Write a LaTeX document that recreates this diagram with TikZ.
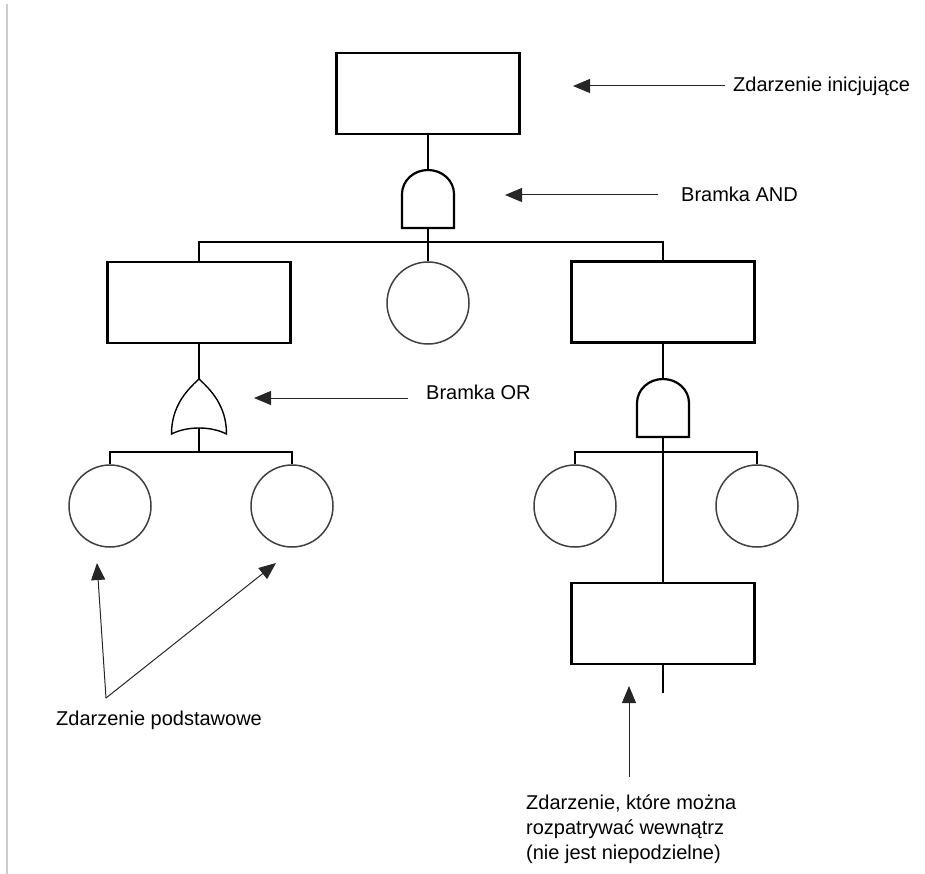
\documentclass[tikz,border=0pt]{standalone}
\usepackage{fontspec}
\setmainfont{Liberation Sans}
\usetikzlibrary{arrows.meta}

\begin{document}
\begin{tikzpicture}[
    x=1pt, y=1pt,
    event/.style={rectangle, draw, line width=2.4pt, minimum width=183pt, minimum height=81pt, inner sep=0pt},
    basic/.style={circle, draw=black!75, line width=1.5pt, minimum size=82pt, inner sep=0pt},
    link/.style={line width=2.2pt},
    pointer/.style={-{Triangle[length=17pt,width=14pt]}, line width=1pt, draw=black!85},
    lbl/.style={anchor=base west, inner sep=0pt, font=\fontsize{20pt}{25pt}\selectfont, align=left},
    andgate/.pic={
        \draw[line width=2.2pt, fill=white] (-26,0) -- (-26,34)
            arc[start angle=180, end angle=0, x radius=26pt, y radius=24pt] -- (26,0) -- cycle;
        \coordinate (-top) at (0,58);
        \coordinate (-bot) at (0,0);
    },
    orgate/.pic={
        \draw[line width=1.4pt, fill=white] (-27.5,0) .. controls (-27.5,28) and (-12,44) .. (0,55)
            .. controls (12,44) and (27.5,28) .. (27.5,0)
            .. controls (12,8) and (-12,8) .. (-27.5,0) -- cycle;
        \coordinate (-top) at (0,55);
        \coordinate (-bot) at (0,6);
    }
]
    \useasboundingbox (0,0) rectangle (925,-874);
    \draw[black!20, line width=1.5pt] (7,-4) -- (7,-874);

    % Main components
    \node[event] (init) at (428,-93.5) {};
    \pic (gand) at (428,-228) {andgate};
    \node[event] (lbox) at (199,-302.5) {};
    \node[basic] (mid) at (428,-303) {};
    \node[event] (rbox) at (663,-302) {};

    % Lower level
    \pic (gor) at (199,-434) {orgate};
    \node[basic] (bl1) at (110,-506) {};
    \node[basic] (bl2) at (292,-506) {};
    \pic (gand2) at (663,-437) {andgate};
    \node[basic] (br1) at (575,-506) {};
    \node[basic] (br2) at (757,-506) {};
    \node[event] (sub) at (663,-623.5) {};
    \coordinate (subend) at (663,-693);

    % Bars
    \coordinate (bar1) at (428,-242);
    \coordinate (bar2) at (199,-452);
    \coordinate (bar3) at (663,-452);

    % Connections
    \draw[link] (init.south) -- (gand-top);
    \draw[link] (gand-bot) -- (mid.north);
    \draw[link] (lbox.north) |- (bar1) -| (rbox.north);
    \draw[link] (lbox.south) -- (gor-top);
    \draw[link] (gor-bot) -- (bar2);
    \draw[link] (bl1.north) |- (bar2) -| (bl2.north);
    \draw[link] (rbox.south) -- (gand2-top);
    \draw[link] (gand2-bot) -- (sub.north);
    \draw[link] (br1.north) |- (bar3) -| (br2.north);
    \draw[line width=1.6pt] (sub.south) -- (subend);

    % Labels
    \node[lbl] (lblinit) at (733,-92) {Zdarzenie inicjujące};
    \node[lbl] (lbland) at (681,-202) {Bramka AND};
    \node[lbl] (lblor) at (426,-399) {Bramka OR};
    \node[lbl] (lblbasic) at (56,-725) {Zdarzenie podstawowe};
    \node[lbl] (lblsub) at (526,-859) {Zdarzenie, które można\\rozpatrywać wewnątrz\\(nie jest niepodzielne)};

    % Arrows
    \coordinate (tipinit) at (573,-86);
    \coordinate (tipand) at (505,-195);
    \coordinate (tipor) at (254,-398);
    \coordinate (tipbl1) at (97,-563);
    \coordinate (tipbl2) at (276,-563);
    \coordinate (basicsrc) at (106,-698);
    \coordinate (tipsub) at (629,-686);
    \coordinate (subsrc) at (629,-777);
    \draw[pointer] (725,-86) coordinate (srcinit) -- (tipinit);
    \draw[pointer] (658,-195) coordinate (srcand) -- (tipand);
    \draw[pointer] (408,-398) coordinate (srcor) -- (tipor);
    \draw[pointer] (basicsrc) -- (tipbl1);
    \draw[pointer] (basicsrc) -- (tipbl2);
    \draw[pointer] (subsrc) -- (tipsub);
\end{tikzpicture}
\end{document}
